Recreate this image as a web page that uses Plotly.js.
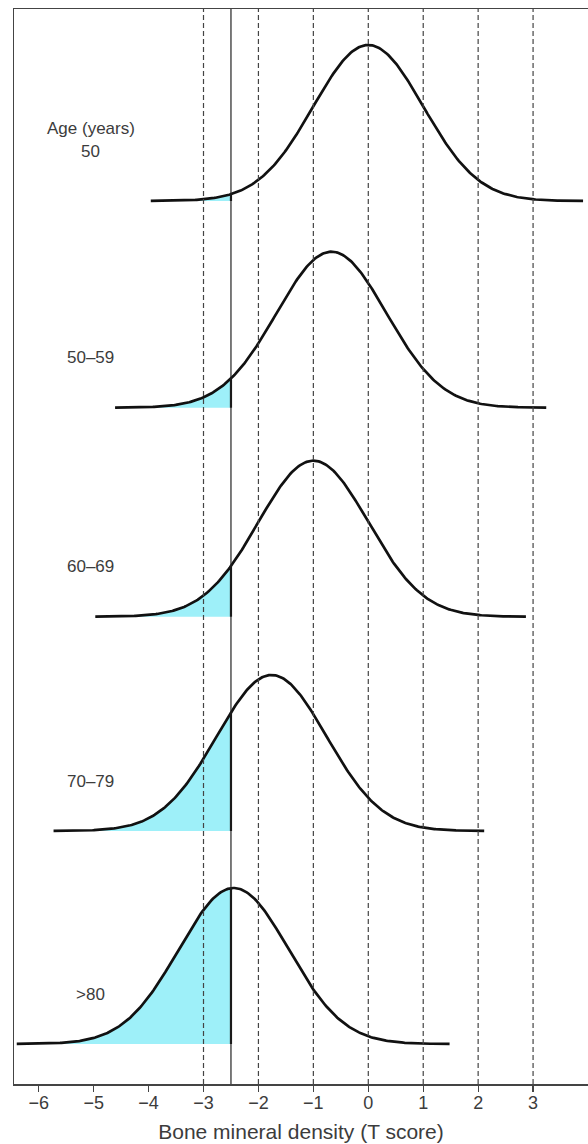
<!DOCTYPE html>
<html>
<head>
<meta charset="utf-8">
<script src="https://cdn.plot.ly/plotly-3.0.1.min.js"></script>
<style>
  html, body { margin: 0; padding: 0; background: #ffffff; }
  #chart { width: 588px; height: 1144px; }
</style>
</head>
<body>
<div id="chart"></div>
<script>
// ---------------- data ----------------
const ageGroups   = ['50', '50–59', '60–69', '70–79', '>80'];
const meanT       = [0, -0.67, -1.0, -1.76, -2.45];   // mean T score of each age group
const sdT         = [1, 1, 1, 1, 1];                   // standard deviation (T units)
const curveStart  = [-3.96, -4.61, -4.97, -5.73, -6.40];
const curveEnd    = [3.91, 3.24, 2.87, 2.11, 1.48];
const threshold   = -2.5;                              // osteoporosis cut-off
const refLines    = [-3, -2, -1, 0, 1, 2, 3];
const tickVals    = [-6, -5, -4, -3, -2, -1, 0, 1, 2, 3];
const tickLabels  = ['\u22126', '\u22125', '\u22124', '\u22123', '\u22122', '\u22121', '0', '1', '2', '3'];
const headerText  = 'Age (years)';
const xTitle      = 'Bone mineral density (T score)';

// ---------------- layout constants ----------------
const W = 588, H = 1144;
const M = { l: 14, r: 0, t: 9, b: 60 };
const PLOT_H = H - M.t - M.b;                 // y axis in pixel units
const ROW_BASE_PX = [201, 407.7, 616.7, 831, 1044];   // baseline of each row (page px)
const PEAK = 156;                             // curve height in px
const LABEL_ABOVE = 50;                       // label centre above baseline
const LABEL_X = -5.05;
const TEXT_COLOR = '#3c3c3c';
const FILL = 'rgb(158,240,249)';
const FONT = 'Liberation Sans, Arial, sans-serif';

const baseY = ROW_BASE_PX.map(p => (H - M.b) - p);

function density(x, m, s) {
  return Math.exp(-((x - m) * (x - m)) / (2 * s * s));
}

const traces = [];
const annotations = [];

ageGroups.forEach((g, i) => {
  const m = meanT[i], s = sdT[i], b = baseY[i];
  const xs = [], ys = [];
  const n = 320;
  for (let k = 0; k <= n; k++) {
    const x = curveStart[i] + (curveEnd[i] - curveStart[i]) * k / n;
    xs.push(x);
    ys.push(b + PEAK * density(x, m, s));
  }
  const fx = [], fy = [];
  for (let k = 0; k < xs.length; k++) {
    if (xs[k] <= threshold) { fx.push(xs[k]); fy.push(ys[k]); }
  }
  const yT = b + PEAK * density(threshold, m, s);
  fx.push(threshold); fy.push(yT);
  fx.push(threshold); fy.push(b);
  fx.push(curveStart[i]); fy.push(b);
  traces.push({
    x: fx, y: fy, type: 'scatter', mode: 'lines',
    fill: 'toself', fillcolor: FILL, line: { width: 0, color: FILL },
    hoverinfo: 'skip', showlegend: false
  });
  traces.push({
    x: [threshold, threshold], y: [b, yT], type: 'scatter', mode: 'lines',
    line: { color: '#111', width: 2.2 }, hoverinfo: 'skip', showlegend: false
  });
  traces.push({
    x: xs, y: ys, type: 'scatter', mode: 'lines',
    line: { color: '#111', width: 2.7, shape: 'linear' },
    name: g, showlegend: false
  });
  annotations.push({
    x: LABEL_X, y: b + LABEL_ABOVE, xref: 'x', yref: 'y',
    text: g, showarrow: false, xanchor: 'center', yanchor: 'middle',
    font: { family: FONT, size: 17, color: TEXT_COLOR }
  });
});

annotations.push({
  x: LABEL_X, y: baseY[0] + LABEL_ABOVE + 22.7, xref: 'x', yref: 'y',
  text: headerText, showarrow: false, xanchor: 'center', yanchor: 'middle',
  font: { family: FONT, size: 17, color: TEXT_COLOR }
});

const shapes = refLines.map(v => ({
  type: 'line', xref: 'x', yref: 'paper', x0: v, x1: v, y0: 0, y1: 1,
  line: { color: '#444', width: 1.2, dash: '5px,3px' }, layer: 'above'
}));
shapes.push({
  type: 'line', xref: 'x', yref: 'paper', x0: threshold, x1: threshold, y0: 0, y1: 1,
  line: { color: '#222', width: 1.2 }, layer: 'above'
});

const layout = {
  width: W, height: H,
  margin: M,
  paper_bgcolor: '#ffffff', plot_bgcolor: '#ffffff',
  showlegend: false,
  xaxis: {
    range: [-6.45, 4.0], fixedrange: true,
    tickmode: 'array', tickvals: tickVals, ticktext: tickLabels,
    ticks: 'outside', ticklen: 6, tickwidth: 1.2, tickcolor: '#444',
    ticklabelstandoff: -4,
    showline: true, linecolor: '#444', linewidth: 1.5, mirror: true,
    showgrid: false, zeroline: false,
    tickfont: { family: FONT, size: 18, color: TEXT_COLOR },
    title: { text: xTitle, font: { family: FONT, size: 21, color: TEXT_COLOR }, standoff: 12 }
  },
  yaxis: {
    range: [0, PLOT_H], fixedrange: true,
    showticklabels: false, ticks: '', showgrid: false, zeroline: false,
    showline: true, linecolor: '#444', linewidth: 1.5, mirror: false
  },
  shapes: shapes,
  annotations: annotations
};

Plotly.newPlot('chart', traces, layout, { staticPlot: true, displayModeBar: false });
</script>
</body>
</html>
